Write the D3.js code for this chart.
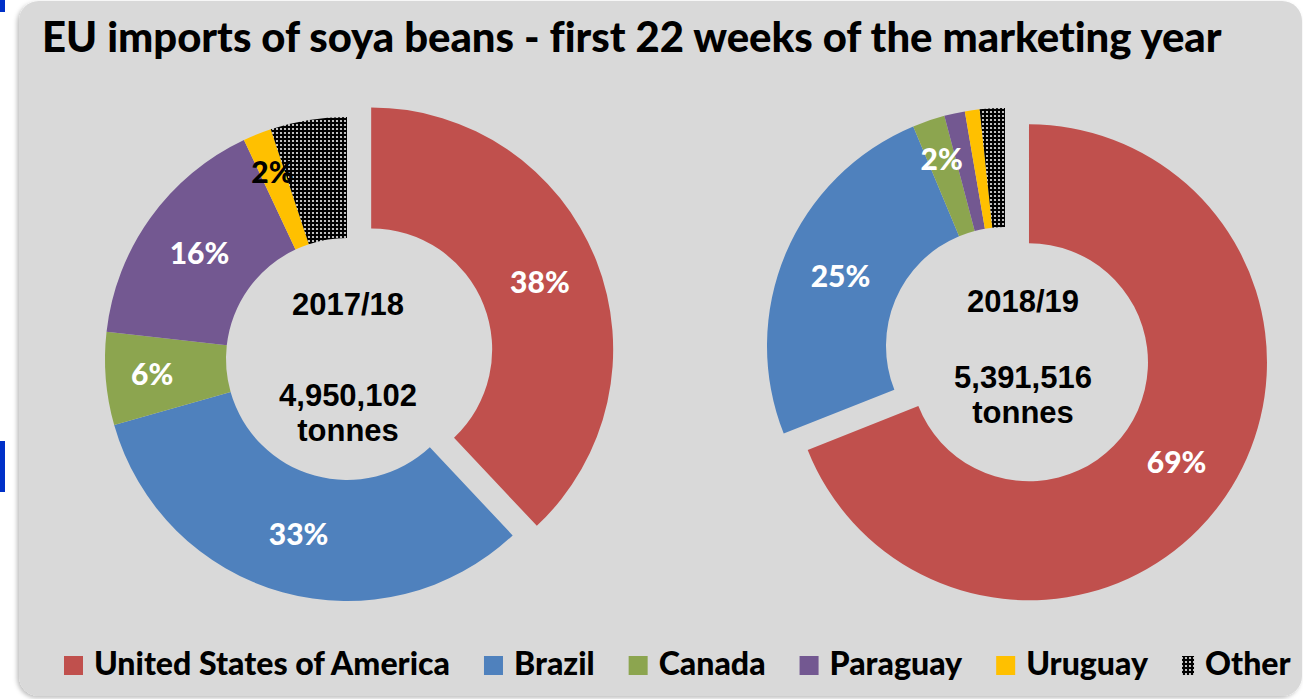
<!DOCTYPE html>
<html><head><meta charset="utf-8">
<script src="https://cdn.jsdelivr.net/npm/d3@7"></script>
<style>html,body{margin:0;padding:0;background:#fff;overflow:hidden}
text{font-variant-ligatures:none;font-feature-settings:"liga" 0}</style>
</head><body><svg id="c" width="1303" height="699"></svg>
<script>
const title = "EU imports of soya beans - first 22 weeks of the marketing year";
const categories = ["United States of America","Brazil","Canada","Paraguay","Uruguay","Other"];
const colors = ["#c0504d","#4f81bd","#8ca54f","#735891","#ffc000","url(#dots)"];
const values2017 = [38.0, 32.6, 6.2, 16.2, 1.9, 5.1];
const values2018 = [69.0, 24.7, 2.2, 1.4, 1.0, 1.7];
const yearLabels = ["2017/18","2018/19"];
const tonnesLabels = ["4,950,102","5,391,516"];
const unitLabel = "tonnes";

const svg = d3.select("#c");
const defs = svg.append("defs");
const pat = defs.append("pattern").attr("id","dots").attr("patternUnits","userSpaceOnUse")
  .attr("width",4).attr("height",4);
pat.append("rect").attr("width",4).attr("height",4).attr("fill","#000");
pat.append("circle").attr("cx",2).attr("cy",2).attr("r",1.1).attr("fill","#eeeeee");
const fl = defs.append("filter").attr("id","sh").attr("x","-5%").attr("y","-5%").attr("width","110%").attr("height","110%");
fl.append("feDropShadow").attr("dx",-2).attr("dy",2).attr("stdDeviation",2)
  .attr("flood-color","#000").attr("flood-opacity",0.25);

// side marks
svg.append("rect").attr("x",0).attr("y",0).attr("width",5).attr("height",12).attr("fill","#0030c8");
svg.append("rect").attr("x",0).attr("y",441).attr("width",5).attr("height",51).attr("fill","#0030c8");
// panel
svg.append("rect").attr("x",19).attr("y",1).attr("width",1283).attr("height",695).attr("rx",20)
  .attr("fill","#d9d9d9").attr("filter","url(#sh)");

function fit(sel, target){
  const w = sel.node().getComputedTextLength();
  const fs = parseFloat(sel.attr("font-size"));
  sel.attr("font-size", fs*target/w);
}

// title
const t = svg.append("text").attr("x",42).attr("y",52).attr("font-family","Lato")
  .attr("font-weight",900).attr("font-size",38).attr("fill","#000").text(title);
fit(t, 1180);

const pies = [
  {values: values2017, year: yearLabels[0], total: tonnesLabels[0], cx:347, cy:359, R:242, explode:26, tx:348, ty:[315,406,441]},
  {values: values2018, year: yearLabels[1], total: tonnesLabels[1], cx:1005, cy:346, R:238, explode:29, tx:1023, ty:[312,388,423]}
];

const pieGen = d3.pie().sort(null).value(d=>d);

pies.forEach(p => {
  const g = svg.append("g").attr("transform",`translate(${p.cx},${p.cy})`);
  const arcs = pieGen(p.values);
  const arc = d3.arc().innerRadius(p.R*0.5).outerRadius(p.R);
  const off = d => {
    const o = d.index===0 ? p.explode : 0;
    const m = (d.startAngle+d.endAngle)/2;
    return [Math.sin(m)*o, -Math.cos(m)*o];
  };
  g.selectAll("path.slice").data(arcs).join("path").attr("class","slice")
    .attr("d",arc)
    .attr("fill",d=>colors[d.index])
    .attr("transform",d=>`translate(${off(d)})`);
  g.selectAll("text.lbl").data(arcs.filter(d=>categories[d.index]!=="Other" && d.data>=1.5))
    .join("text").attr("class","lbl")
    .attr("transform",d=>{
      const m = (d.startAngle+d.endAngle)/2;
      const r = d.data<3 ? p.R*0.83 : p.R*0.75;
      const o = off(d);
      const shift = (categories[d.index]==="Canada" && d.data>3) ? -14 : 0;
      return `translate(${Math.sin(m)*r+o[0]+shift},${-Math.cos(m)*r+o[1]})`;
    })
    .attr("text-anchor","middle").attr("dy","0.36em")
    .attr("font-family","Lato").attr("font-weight",900).attr("font-size",30)
    .attr("fill",d=>categories[d.index]==="Uruguay" ? "#000" : "#fff")
    .text(d=>Math.round(d.data)+"%");
  const lines = [p.year, p.total, unitLabel];
  lines.forEach((s,i)=>{
    svg.append("text").attr("x",p.tx).attr("y",p.ty[i]).attr("text-anchor","middle")
      .attr("font-family","Liberation Sans, Arial").attr("font-weight","bold").attr("font-size",31)
      .attr("fill","#000").text(s);
  });
});

// legend
let lx = 64;
const ly = 656;
const lg = svg.append("g");
const probe = lg.append("text").attr("font-family","Lato").attr("font-weight",900)
  .attr("font-size",28).text(categories[0]);
const fsLeg = 28*356/probe.node().getComputedTextLength();
probe.remove();
categories.forEach((c,i)=>{
  const sw = c==="Other" ? 12 : 19;
  lg.append("rect").attr("x",lx).attr("y",ly).attr("width",sw).attr("height",19).attr("fill",colors[i]);
  const tx = lg.append("text").attr("x",lx+sw+11).attr("y",ly+19).attr("font-family","Lato")
    .attr("font-weight",900).attr("font-size",fsLeg).attr("fill","#000").text(c);
  lx = lx+sw+11+tx.node().getComputedTextLength()+34;
});
</script></body></html>
